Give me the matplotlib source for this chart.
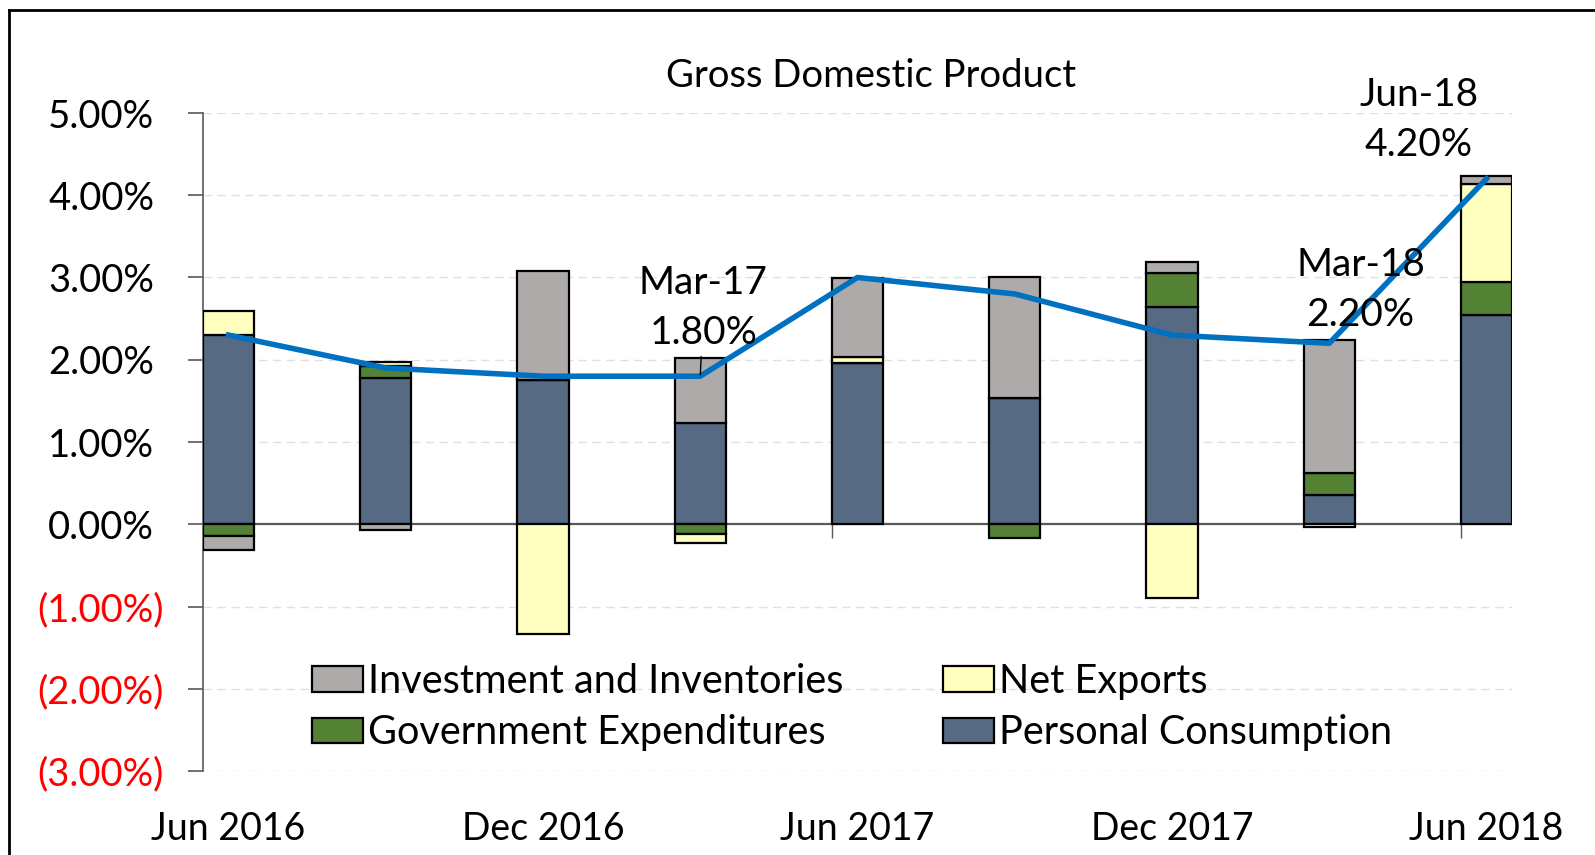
import numpy as np
import matplotlib
matplotlib.use("Agg")
import matplotlib.pyplot as plt
from matplotlib.patches import Patch
from matplotlib.lines import Line2D
from matplotlib.transforms import ScaledTranslation

plt.rcParams['font.family'] = ['Lato', 'DejaVu Sans']

# quarterly contributions to GDP growth (percentage points)
quarters = ["Jun 2016", "Sep 2016", "Dec 2016", "Mar 2017", "Jun 2017",
            "Sep 2017", "Dec 2017", "Mar 2018", "Jun 2018"]
personal = [2.30, 1.78, 1.75, 1.23, 1.96, 1.53, 2.64, 0.35, 2.55]
government = [-0.14, 0.15, 0.00, -0.12, 0.00, -0.17, 0.41, 0.27, 0.40]
net_exports = [0.29, 0.04, -1.33, -0.11, 0.07, 0.00, -0.90, -0.03, 1.19]
investment = [-0.17, -0.07, 1.33, 0.79, 0.96, 1.47, 0.14, 1.62, 0.10]
gdp = [2.3, 1.9, 1.8, 1.8, 3.0, 2.8, 2.3, 2.2, 4.2]

y_ticks = [-3, -2, -1, 0, 1, 2, 3, 4, 5]
callouts = [("Mar-17", 3), ("Mar-18", 7), ("Jun-18", 8)]

series = [
    ("Personal Consumption", personal, "#576A84"),
    ("Government Expenditures", government, "#548235"),
    ("Net Exports", net_exports, "#FFFFC0"),
    ("Investment and Inventories", investment, "#AEAAAA"),
]

W, H = 1595, 855
fig = plt.figure(figsize=(W / 100, H / 100), dpi=100)
ax = fig.add_axes([203 / W, 1 - 771 / H, (1512 - 203) / W, (771 - 113) / H])

FS = 27.5
bw = 0.325
x = np.arange(len(quarters))

# stacked bars, positives up and negatives down
pos = np.zeros(len(x))
neg = np.zeros(len(x))
for name, vals, col in series:
    v = np.array(vals)
    bottom = np.where(v >= 0, pos, neg)
    ax.bar(x, v, bw, bottom=bottom, color=col, edgecolor="black",
           linewidth=1.6, zorder=3)
    pos += np.where(v >= 0, v, 0)
    neg += np.where(v < 0, v, 0)

ax.plot(x, gdp, color="#0070C0", lw=4, zorder=5, solid_joinstyle="round")

ax.set_xlim(-bw / 2, len(x) - 1 + bw / 2)
ax.set_ylim(-3, 5)

# grid and zero line
for t in y_ticks:
    if t != 0:
        ax.axhline(t, color="#E0E0E0", lw=1, ls=(0, (6, 4)), zorder=1)
ax.axhline(0, color="#595959", lw=1.6, zorder=2)
ax.vlines(x[::2] - bw / 2, -0.17, 0, color="#595959", lw=1, zorder=2)

for s in ["top", "right", "bottom"]:
    ax.spines[s].set_visible(False)
ax.spines["left"].set_color("#595959")
ax.spines["left"].set_linewidth(1.2)

ax.set_yticks(y_ticks)
ylabels = [f"{t:.2f}%" if t >= 0 else f"({-t:.2f}%)" for t in y_ticks]
ax.set_yticklabels(ylabels)
ax.tick_params(axis="y", direction="out", length=11, width=1.2,
               color="#595959", pad=17, labelsize=FS)
for t, lab in zip(y_ticks, ax.get_yticklabels()):
    if t < 0:
        lab.set_color("red")
    else:
        lab.set_transform(lab.get_transform() +
                          ScaledTranslation(-0.10, 0, fig.dpi_scale_trans))

ax.set_xticks(x[::2])
ax.set_xticklabels(quarters[::2])
ax.tick_params(axis="x", length=0, pad=29, labelsize=FS - 0.5)

# callouts
CFS = 28
ax.annotate(f"{callouts[0][0]}\n{gdp[callouts[0][1]]:.2f}%", xy=(3, 1.8),
            xytext=(3.02, 2.63), ha="center", va="center", fontsize=CFS,
            linespacing=1.48, zorder=6,
            arrowprops=dict(arrowstyle="-", lw=1, color="black",
                            shrinkA=2, shrinkB=1))
ax.text(7.2, 2.85, f"{callouts[1][0]}\n{gdp[callouts[1][1]]:.2f}%",
        ha="center", va="center", fontsize=CFS, linespacing=1.48, zorder=6)
ax.text(7.57, 4.91, f"{callouts[2][0]}\n{gdp[callouts[2][1]]:.2f}%",
        ha="center", va="center", fontsize=CFS, linespacing=1.48, zorder=6)

fig.text(871 / W, 1 - 76 / H, "Gross Domestic Product", ha="center",
         va="center", fontsize=27.5)

# legend (row-major like the original)
cols = {n: c for n, _, c in series}
order = ["Investment and Inventories", "Government Expenditures",
         "Net Exports", "Personal Consumption"]
handles = [Patch(facecolor=cols[n], edgecolor="black", lw=1.6) for n in order]
fig.legend(handles, order, loc="upper left",
           bbox_to_anchor=(312 / W, 1 - 663 / H), ncol=2, frameon=False,
           fontsize=28.5, handlelength=1.3, handleheight=0.6,
           handletextpad=0.12, columnspacing=2.5, labelspacing=0.36,
           borderpad=0, borderaxespad=0)

# outer frame (top and left edges visible)
fig.add_artist(Line2D([9 / W, 1], [1 - 10 / H, 1 - 10 / H], color="black",
                      lw=2, transform=fig.transFigure))
fig.add_artist(Line2D([9 / W, 9 / W], [0, 1 - 10 / H], color="black",
                      lw=2, transform=fig.transFigure))

fig.savefig("out.png", dpi=100)
